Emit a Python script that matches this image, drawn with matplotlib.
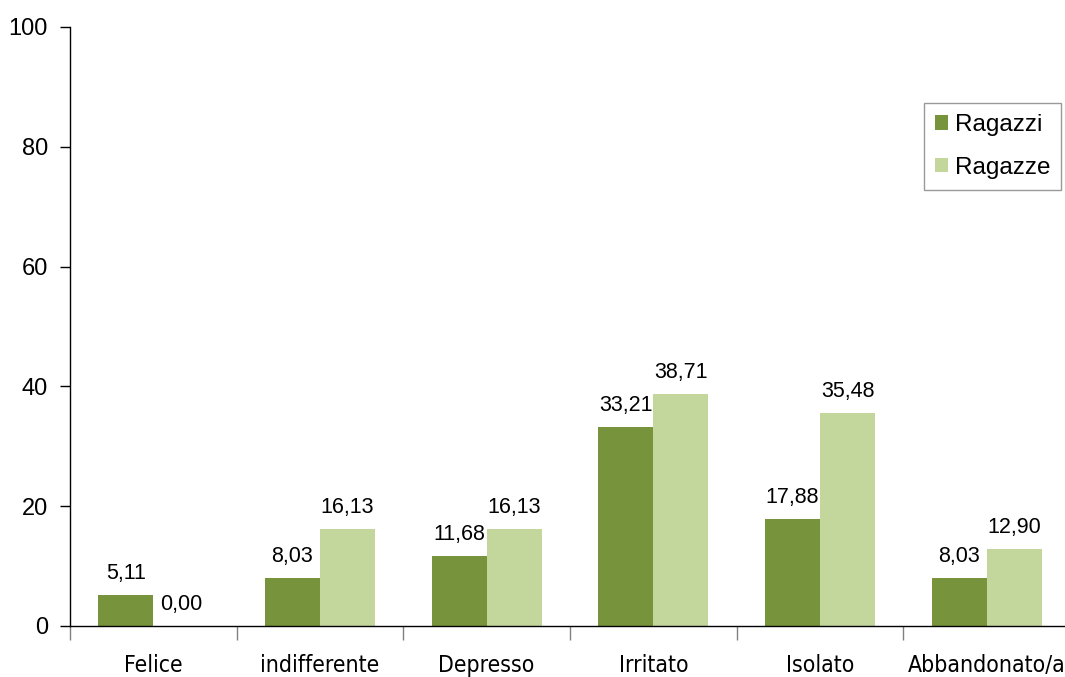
import matplotlib.pyplot as plt
import numpy as np

categories = ["Felice", "indifferente", "Depresso", "Irritato", "Isolato", "Abbandonato/a"]
ragazzi = [5.11, 8.03, 11.68, 33.21, 17.88, 8.03]
ragazze = [0.00, 16.13, 16.13, 38.71, 35.48, 12.90]

DARK = "#77933C"
LIGHT = "#C3D69B"

W, H = 1065, 677
fig = plt.figure(figsize=(W / 100, H / 100), dpi=100)
# axes run a little past the right edge of the figure
ax = fig.add_axes([70 / W, 51 / H, 1000 / W, 599 / H])

x = np.arange(len(categories))
bw = 0.33
b1 = ax.bar(x - bw / 2, ragazzi, bw, color=DARK, label="Ragazzi")
b2 = ax.bar(x + bw / 2, ragazze, bw, color=LIGHT, label="Ragazze")

def fmt(v):
    return f"{v:.2f}".replace(".", ",")

for bars, vals in ((b1, ragazzi), (b2, ragazze)):
    for rect, v in zip(bars, vals):
        ax.annotate(fmt(v), (rect.get_x() + rect.get_width() / 2, v),
                    xytext=(0, 8), textcoords="offset points",
                    ha="center", va="bottom", fontsize=15.5,
                    family="Liberation Sans")

ax.set_xlim(-0.5, len(categories) - 0.5)
ax.set_ylim(0, 100)
ax.set_yticks(np.arange(0, 101, 20))
ax.tick_params(axis="y", length=7, width=1, pad=9, labelsize=17)
for lab in ax.get_yticklabels():
    lab.set_family("Liberation Sans")

# category names on centres, tick marks on the boundaries
ax.set_xticks(x)
ax.set_xticklabels(categories, fontsize=16.5, family="DejaVu Sans",
                   fontstretch="condensed")
ax.tick_params(axis="x", which="major", length=0, pad=20)
ax.set_xticks(np.arange(-0.5, len(categories), 1), minor=True)
ax.tick_params(axis="x", which="minor", length=10, width=1, color="#808080")

ax.spines["top"].set_visible(False)
ax.spines["right"].set_visible(False)
ax.spines["left"].set_linewidth(1)
ax.spines["bottom"].set_linewidth(1)

leg = ax.legend(loc="upper right", bbox_to_anchor=(1061 / W, 1 - 103 / H),
                bbox_transform=fig.transFigure, borderaxespad=0,
                prop={"family": "Liberation Sans", "size": 17.5},
                handlelength=0.55, handleheight=0.55, handletextpad=0.25,
                labelspacing=0.85, borderpad=0.45, fancybox=False, frameon=True)
leg.get_frame().set_edgecolor("#808080")
leg.get_frame().set_linewidth(1)

fig.savefig("out.png", dpi=100)
